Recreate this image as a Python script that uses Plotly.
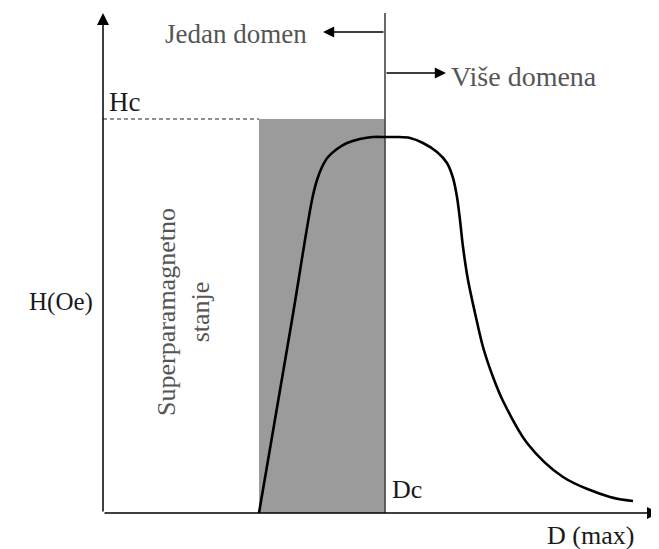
import plotly.graph_objects as go

# Coercivity vs particle size (arbitrary units)
curve_d = [156, 189, 209, 214, 219, 225, 234, 244, 257, 270, 282, 294, 307, 320,
           334, 344, 350, 354, 357, 360, 365, 372, 380, 390, 400, 424, 460, 507, 530]
curve_h = [0, 193, 313, 333, 346, 356, 364, 370, 374, 376, 376, 376, 375, 370,
           361, 350, 335, 316, 293, 266, 233, 200, 166, 136, 112, 70, 36, 16, 12]

d_super = 156      # start of the single-domain band
d_c = 282          # critical diameter Dc
h_c = 394          # Hc level
axis_d_max = 556
axis_h_max = 500

SERIF = "Liberation Serif, Times New Roman, serif"
GRAY_TEXT = "#555555"
DARK_TEXT = "#1a1a1a"

# the page body keeps an 8px margin, so the figure is shrunk by that much
PAGE_PAD = 8

fig = go.Figure()

# shaded single-domain band
fig.add_trace(go.Scatter(
    x=[d_super, d_c, d_c, d_super, d_super],
    y=[0, 0, h_c, h_c, 0],
    fill="toself",
    fillcolor="#9b9b9b",
    line={"width": 0},
    mode="lines",
    hoverinfo="skip",
))

# dashed Hc guide
fig.add_trace(go.Scatter(
    x=[0, d_super], y=[h_c, h_c], mode="lines",
    line={"color": "#222222", "width": 1, "dash": "4px,3px"},
    hoverinfo="skip",
))

# Dc divider
fig.add_trace(go.Scatter(
    x=[d_c, d_c], y=[0, axis_h_max], mode="lines",
    line={"color": "#444444", "width": 1.6},
    hoverinfo="skip",
))

# coercivity curve
fig.add_trace(go.Scatter(
    x=curve_d, y=curve_h, mode="lines",
    line={"color": "black", "width": 2.6, "shape": "spline", "smoothing": 0.9},
    hoverinfo="skip",
))


def arrow(x, y, ax, ay, width=1.5):
    fig.add_annotation(
        x=x, y=y, ax=ax, ay=ay, xref="x", yref="y", axref="x", ayref="y",
        text="", showarrow=True, arrowhead=2, arrowsize=1.6, arrowwidth=width,
        arrowcolor="black", standoff=0,
    )


# axes with arrow tips
arrow(0, axis_h_max, 0, 0)
arrow(axis_d_max, 0, 0, 0)
# domain arrows
arrow(220, 481, d_c, 481, width=1.4)
arrow(343, 440, d_c, 440, width=1.4)


def label(text, x, y, color=DARK_TEXT, size=26, angle=0):
    fig.add_annotation(
        x=x, y=y, xref="x", yref="y", text=text, showarrow=False,
        textangle=angle, font={"family": SERIF, "size": size, "color": color},
        xanchor="center", yanchor="middle",
    )


label("Jedan domen", 133, 479, color=GRAY_TEXT, size=27)
label("Više domena", 421, 437, color=GRAY_TEXT, size=28)
label("Hc", 21, 411, size=27)
label("H(Oe)", -42, 211, size=25)
label("Dc", 304, 24)
label("D (max)", 487, -22)
label("Superparamagnetno<br>stanje", 80, 201, color=GRAY_TEXT, angle=-90)

fig.update_layout(
    width=659 - PAGE_PAD,
    height=549 - PAGE_PAD,
    margin={"l": 0, "r": 0, "t": 0, "b": 0},
    plot_bgcolor="white",
    paper_bgcolor="white",
    showlegend=False,
)
fig.update_xaxes(visible=False, range=[-103 + PAGE_PAD, 556])
fig.update_yaxes(visible=False, range=[-36, 513 - PAGE_PAD])

fig.write_html("out.html")
